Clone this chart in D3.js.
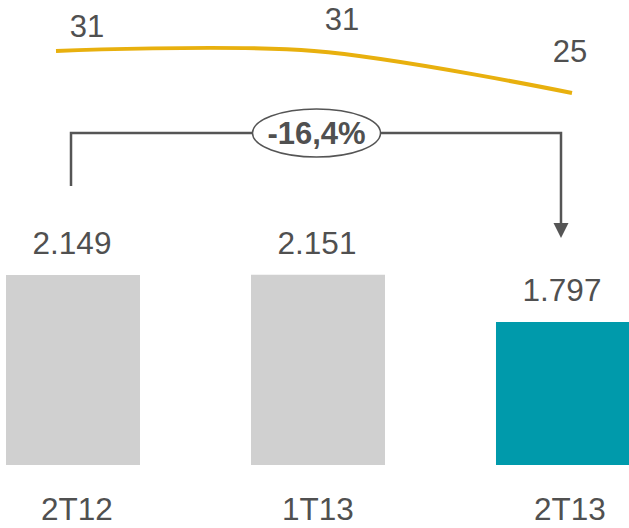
<!DOCTYPE html>
<html>
<head>
<meta charset="utf-8">
<script src="https://cdn.jsdelivr.net/npm/d3@7"></script>
<style>
  html, body { margin: 0; padding: 0; background: #fff; }
  svg { display: block; font-family: "Liberation Sans", Arial, sans-serif; }
</style>
</head>
<body>
<svg id="chart" width="629" height="528"></svg>
<script>
// Quarters
const categories = ["2T12", "1T13", "2T13"];
// Bar series (volume)
const barValues = [2149, 2151, 1797];
const barLabels = ["2.149", "2.151", "1.797"];
// Line series
const lineValues = [31, 31, 25];
const lineLabels = ["31", "31", "25"];
// Change between first and last quarter
const changeLabel = "-16,4%";

const svg = d3.select("#chart");
const textColor = "#505050";
const barColors = ["#d0d0d0", "#d0d0d0", "#009aab"];

// Bars
const x = d3.scaleBand().domain(categories).range([6, 630]).paddingInner(0.453);
const y = d3.scaleLinear().domain([726, 2149]).range([465, 275]);

svg.append("g").selectAll("rect")
  .data(barValues)
  .join("rect")
  .attr("x", (d, i) => x(categories[i]))
  .attr("y", d => y(d))
  .attr("width", x.bandwidth())
  .attr("height", d => y.range()[0] - y(d))
  .attr("fill", (d, i) => barColors[i]);

svg.append("g").selectAll("text")
  .data(barValues)
  .join("text")
  .attr("x", (d, i) => x(categories[i]) + x.bandwidth() / 2 - 1)
  .attr("y", d => y(d) - 21)
  .attr("text-anchor", "middle")
  .attr("font-size", 31.5)
  .attr("fill", textColor)
  .text((d, i) => barLabels[i]);

// Category axis labels
const catShift = [4, 0, 7];
svg.append("g").selectAll("text")
  .data(categories)
  .join("text")
  .attr("x", (d, i) => x(d) + x.bandwidth() / 2 + catShift[i])
  .attr("y", 520)
  .attr("text-anchor", "middle")
  .attr("font-size", 31.5)
  .attr("fill", textColor)
  .text(d => d);

// Line
const lx = d3.scalePoint().domain(categories).range([56, 572]);
const ly = d3.scaleLinear().domain([25, 31]).range([93, 51]);
const line = d3.line()
  .x((d, i) => lx(categories[i]))
  .y(d => ly(d))
  .curve(d3.curveCardinal.tension(0));

svg.append("path")
  .datum(lineValues)
  .attr("d", line)
  .attr("fill", "none")
  .attr("stroke", "#e8b00e")
  .attr("stroke-width", 4);

const lblOff = [[31, -14], [28, -21], [-2, -31]];
svg.append("g").selectAll("text")
  .data(lineValues)
  .join("text")
  .attr("x", (d, i) => lx(categories[i]) + lblOff[i][0])
  .attr("y", (d, i) => ly(d) + lblOff[i][1])
  .attr("text-anchor", "middle")
  .attr("font-size", 31)
  .attr("fill", textColor)
  .text((d, i) => lineLabels[i]);

// Change bracket from first to last quarter
const bx0 = x(categories[0]) + x.bandwidth() / 2 - 2;
const bx1 = x(categories[2]) + x.bandwidth() / 2 - 2;
const by = 133;
const arrowTip = 238;
const bracket = svg.append("g").attr("stroke", "#555").attr("fill", "none").attr("stroke-width", 2.5);
bracket.append("path")
  .attr("d", `M${bx0},186 V${by} H${bx1} V${arrowTip - 13}`);
svg.append("path")
  .attr("d", `M${bx1 - 7.5},${arrowTip - 15} L${bx1 + 7.5},${arrowTip - 15} L${bx1},${arrowTip} Z`)
  .attr("fill", "#555");

const cx = (bx0 + bx1) / 2 + 0.5;
svg.append("ellipse")
  .attr("cx", cx)
  .attr("cy", by)
  .attr("rx", 64)
  .attr("ry", 24)
  .attr("fill", "#fff")
  .attr("stroke", "#555")
  .attr("stroke-width", 1.5);
svg.append("text")
  .attr("x", cx)
  .attr("y", by + 11)
  .attr("text-anchor", "middle")
  .attr("font-size", 31)
  .attr("font-weight", "bold")
  .attr("fill", textColor)
  .text(changeLabel);
</script>
</body>
</html>
